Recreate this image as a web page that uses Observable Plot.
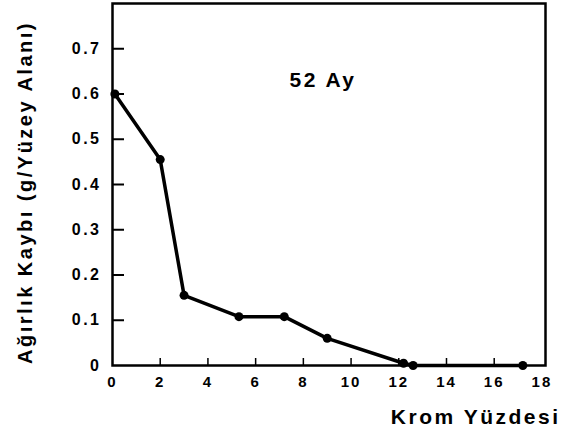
<!DOCTYPE html>
<html><head><meta charset="utf-8">
<script src="https://cdn.jsdelivr.net/npm/d3@7"></script>
<script src="https://cdn.jsdelivr.net/npm/@observablehq/plot@0.6"></script>
<style>body{margin:0;background:#fff} svg text{letter-spacing:2px}</style>
</head><body><div id="c"></div>
<script>
const krom = [0.1, 2.0, 3.0, 5.3, 7.2, 9.0, 12.2, 12.6, 17.2];
const kayip = [0.6, 0.455, 0.155, 0.108, 0.108, 0.06, 0.005, 0, 0];
const xTicks = [0, 2, 4, 6, 8, 10, 12, 14, 16, 18];
const yTicks = [0, 0.1, 0.2, 0.3, 0.4, 0.5, 0.6, 0.7];
const yTickLabels = ["0", "0.1", "0.2", "0.3", "0.4", "0.5", "0.6", "0.7"];
const panelLabel = "52 Ay";
const xLabel = "Krom Yüzdesi";
const yLabel = "Ağırlık Kaybı (g/Yüzey Alanı)";

const data = krom.map((x, i) => ({x, y: kayip[i]}));
const W = 561, H = 439, mL = 112, mR = 16, mT = 3, mB = 74;
const font = "'Liberation Sans', Arial, sans-serif";

const chart = Plot.plot({
  width: W, height: H,
  marginLeft: mL, marginRight: mR, marginTop: mT, marginBottom: mB,
  style: {fontFamily: font, background: "#fff", color: "#000"},
  x: {domain: [0, 18.15]},
  y: {domain: [0, 0.8]},
  marks: [
    Plot.frame({stroke: "#000", strokeWidth: 2.5}),
    Plot.tickY(yTicks.slice(1), {y: d => d, insetRight: (W - mL - mR) - 12, stroke: "#000", strokeWidth: 2}),
    Plot.tickX(xTicks.slice(1, -1), {x: d => d, insetTop: (H - mT - mB) - 7, stroke: "#000", strokeWidth: 1.5}),
    Plot.axisY({ticks: yTicks, tickFormat: (d, i) => yTickLabels[i], tickSize: 0, tickPadding: 11, label: null, fontSize: 16, fontWeight: "bold"}),
    Plot.axisX({ticks: xTicks, tickSize: 0, tickPadding: 11, label: null, fontSize: 15, fontWeight: "bold"}),
    Plot.line(data, {x: "x", y: "y", stroke: "#000", strokeWidth: 3.5}),
    Plot.dot(data, {x: "x", y: "y", r: 4.5, fill: "#000"}),
    Plot.text([panelLabel], {frameAnchor: "top", dx: -6, dy: 69, fontSize: 21, fontWeight: "bold", fill: "#000"}),
    Plot.text([xLabel], {frameAnchor: "bottom-right", textAnchor: "end", dx: 15, dy: 58, fontSize: 21, fontWeight: "bold", fill: "#000"}),
    Plot.text([yLabel], {frameAnchor: "left", textAnchor: "middle", rotate: -90, dx: -87, dy: 8, fontSize: 20, fontWeight: "bold", fill: "#000"})
  ]
});
d3.select(chart).selectAll('g[aria-label="text"] text').style("letter-spacing", "2.5px");
d3.select(chart).selectAll('g[aria-label="y-axis tick label"] text').style("letter-spacing", "2.5px");
document.getElementById("c").appendChild(chart);
</script>
</body></html>
